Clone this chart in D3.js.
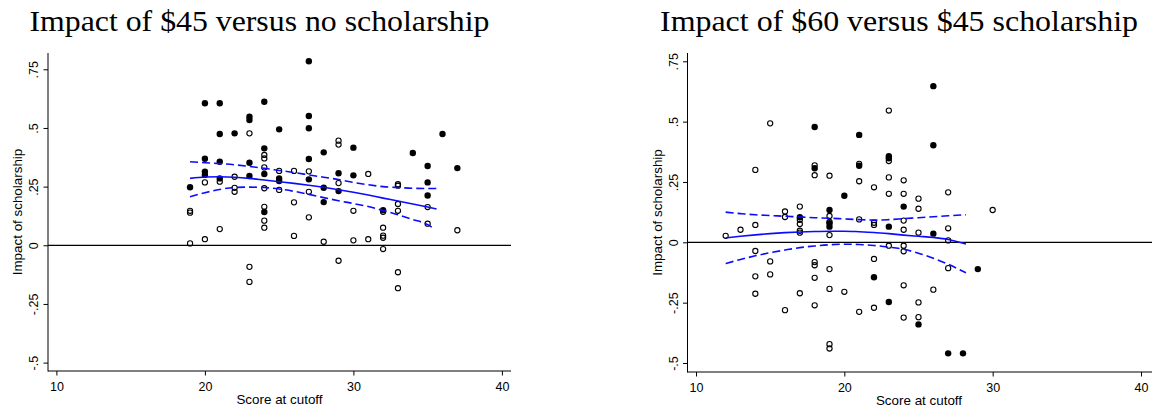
<!DOCTYPE html>
<html>
<head>
<meta charset="utf-8">
<script src="https://cdn.jsdelivr.net/npm/d3@7"></script>
<style>
  html, body { margin: 0; padding: 0; background: #fff; overflow: hidden; }
  svg { display: block; }
</style>
</head>
<body>
<svg id="chart" width="1152" height="411"></svg>
<script>
// ---------------- DATA ----------------
const titles = ["Impact of $45 versus no scholarship", "Impact of $60 versus $45 scholarship"];
const xTitle = "Score at cutoff";
const yTitle = "Impact of scholarship";
const xTicks = [10, 20, 30, 40];
const yTicks = [-0.5, -0.25, 0, 0.25, 0.5, 0.75];
const yTickLabels = ["-.5", "-.25", "0", ".25", ".5", ".75"];

// Left panel: $45 vs none
const leftFilled = [
  [19,.247],[20,.605],[20,.369],[20,.314],[20,.300],[21,.605],[21,.474],[21,.356],[21,.285],
  [22,.477],[23,.548],[23,.534],[23,.352],[23,.295],[24,.612],[24,.413],[24,.304],[24,.142],
  [25,.494],[25,.285],[25,.274],[27,.784],[27,.551],[27,.499],[27,.368],[27,.281],[28,.396],
  [28,.245],[28,.184],[29,.307],[29,.231],[30,.416],[30,.298],[32,.150],[34,.393],[35,.338],
  [35,.268],[35,.212],[36,.474],[37,.329]
];
const leftHollow = [
  [19,.147],[19,.139],[19,.008],[20,.268],[20,.026],[21,.271],[21,.069],[22,.292],[22,.245],
  [22,.228],[23,.477],[23,-.092],[23,-.156],[24,.385],[24,.370],[24,.332],[24,.243],[24,.164],
  [24,.105],[24,.075],[25,.317],[25,.236],[26,.317],[26,.183],[26,.040],[27,.315],[27,.228],
  [27,.119],[28,.015],[29,.446],[29,.429],[29,.265],[29,-.066],[30,.147],[30,.021],[31,.304],
  [31,.026],[32,.143],[32,.075],[32,.041],[32,.032],[32,-.016],[33,.260],[33,.254],[33,.176],
  [33,.147],[33,-.115],[33,-.183],[35,.163],[35,.092],[37,.064]
];
const leftFitX   = [19, 20, 21, 22, 23, 24, 25, 26, 27, 28, 29, 30, 31, 32, 33, 34, 35, 35.6];
const leftFit    = [.285,.291,.292,.290,.285,.278,.271,.264,.256,.247,.237,.226,.214,.201,.189,.176,.163,.155];
const leftUpper  = [.356,.352,.348,.343,.336,.328,.319,.310,.300,.290,.280,.268,.258,.250,.246,.243,.242,.242];
const leftLowerX = [19, 20, 21, 22, 23, 24, 25, 26, 27, 28, 29, 30, 31, 32, 33, 34, 35, 35.4];
const leftLower  = [.207,.224,.238,.246,.248,.246,.240,.230,.217,.203,.190,.178,.165,.148,.130,.110,.088,.072];

// Right panel: $60 vs $45
const rightFilled = [
  [17,.104],[18,.478],[18,.307],[19,.134],[19,.079],[19,.065],[20,.193],[21,.445],[21,.317],
  [22,-.145],[23,.357],[23,.348],[23,.065],[23,-.247],[24,.148],[25,-.340],[26,.647],[26,.402],
  [26,.036],[27,-.460],[28,-.460],[29,-.111]
];
const rightHollow = [
  [12,.027],[13,.052],[14,.300],[14,.072],[14,-.036],[14,-.141],[14,-.213],[15,.493],[15,-.079],
  [15,-.133],[16,.128],[16,.105],[16,-.281],[17,.148],[17,.093],[17,.076],[17,.048],[17,.040],
  [17,-.211],[18,.319],[18,.278],[18,-.082],[18,-.095],[18,-.147],[18,-.261],[19,.276],[19,.109],
  [19,.085],[19,.030],[19,-.111],[19,-.193],[19,-.422],[19,-.440],[20,-.205],[21,.325],[21,.253],
  [21,.095],[21,-.288],[22,.228],[22,.081],[22,.072],[22,-.069],[22,-.271],[23,.546],[23,.337],
  [23,.269],[23,.201],[23,-.014],[24,.257],[24,.201],[24,.090],[24,.052],[24,-.014],[24,-.037],
  [24,-.178],[24,-.312],[25,.181],[25,.139],[25,.040],[25,-.249],[25,-.310],[26,-.196],[27,.207],
  [27,.058],[27,.008],[27,-.107],[30,.134]
];
const rightFitX  = [12, 13, 14, 15, 16, 17, 18, 19, 20, 21, 22, 23, 24, 25, 26, 27, 28.2];
const rightFit   = [.018,.025,.031,.036,.040,.043,.045,.046,.046,.044,.041,.036,.030,.025,.020,.012,-.007];
const rightUpper = [.125,.119,.114,.111,.108,.105,.102,.100,.097,.094,.092,.094,.098,.102,.106,.110,.114];
const rightLower = [-.088,-.071,-.056,-.043,-.032,-.022,-.015,-.010,-.008,-.009,-.013,-.020,-.029,-.045,-.066,-.091,-.126];

// ---------------- LAYOUT ----------------
const panels = [
  { title: titles[0], titleX: 29.5, titleW: 460,
    xr: [56.4, 501.9], yr: [362.6, 69.3], axX: 48, axY: 371, top: 53, right: 511,
    zeroEnd: 511, tickOff: -10.5, yTitleX: 22, xLabY: 391, xTitleY: 404.3, xTitleC: 279.5,
    filled: leftFilled, hollow: leftHollow,
    fit: { x: leftFitX, y: leftFit }, upper: { x: leftFitX, y: leftUpper }, lower: { x: leftLowerX, y: leftLower } },
  { title: titles[1], titleX: 660, titleW: 478,
    xr: [696, 1141], yr: [363.0, 61.3], axX: 687.5, axY: 372, top: 53, right: 1152,
    zeroEnd: 1152, tickOff: -9.5, yTitleX: 662, xLabY: 392, xTitleY: 405.3, xTitleC: 919,
    filled: rightFilled, hollow: rightHollow,
    fit: { x: rightFitX, y: rightFit }, upper: { x: rightFitX, y: rightUpper }, lower: { x: rightFitX, y: rightLower } }
];

const svg = d3.select("#chart");
const SANS = '"Liberation Sans", Arial, sans-serif';
const SERIF = '"Liberation Serif", "Times New Roman", serif';
const blue = "#0b0bff";

panels.forEach(p => {
  const x = d3.scaleLinear().domain([10, 40]).range(p.xr);
  const y = d3.scaleLinear().domain([-0.5, 0.75]).range(p.yr);
  const g = svg.append("g");

  // Title
  g.append("text")
    .style("font-family", SERIF).style("font-size", "29.5px")
    .attr("x", p.titleX).attr("y", 30.5)
    .attr("textLength", p.titleW).attr("lengthAdjust", "spacingAndGlyphs")
    .attr("fill", "#000")
    .text(p.title);

  // Zero reference line
  g.append("line")
    .attr("x1", p.axX).attr("x2", p.zeroEnd)
    .attr("y1", y(0)).attr("y2", y(0))
    .attr("stroke", "#000").attr("stroke-width", 1.3);

  // Axes
  const yAxis = d3.axisLeft(y).tickValues(yTicks)
    .tickFormat((d, i) => yTickLabels[i]).tickSize(4.5).tickPadding(0);
  const ya = g.append("g").attr("transform", `translate(${p.axX},0)`).call(yAxis);
  ya.select(".domain").remove();
  ya.selectAll(".tick line").attr("stroke", "#000").attr("stroke-width", 1);
  ya.selectAll(".tick text")
    .style("font-family", SANS).style("font-size", "12.5px")
    .attr("x", 0).attr("y", p.tickOff).attr("dy", null)
    .attr("transform", "rotate(-90)")
    .attr("text-anchor", "middle")
    .attr("fill", "#000");

  const xAxis = d3.axisBottom(x).tickValues(xTicks).tickSize(4.5).tickPadding(0);
  const xa = g.append("g").attr("transform", `translate(0,${p.axY})`).call(xAxis);
  xa.select(".domain").remove();
  xa.selectAll(".tick line").attr("stroke", "#000").attr("stroke-width", 1);
  xa.selectAll(".tick text")
    .style("font-family", SANS).style("font-size", "12.5px")
    .attr("y", p.xLabY - p.axY).attr("dy", null)
    .attr("fill", "#000");

  // Axis lines
  g.append("line").attr("x1", p.axX).attr("x2", p.axX).attr("y1", p.top).attr("y2", p.axY + 0.5)
    .attr("stroke", "#000").attr("stroke-width", 1);
  g.append("line").attr("x1", p.axX).attr("x2", p.right).attr("y1", p.axY).attr("y2", p.axY)
    .attr("stroke", "#000").attr("stroke-width", 1);

  // Axis titles
  g.append("text")
    .style("font-family", SANS).style("font-size", "13.4px")
    .attr("transform", `translate(${p.yTitleX},${(p.top + p.axY) / 2}) rotate(-90)`)
    .attr("text-anchor", "middle")
    .attr("fill", "#000")
    .text(yTitle);
  g.append("text")
    .style("font-family", SANS).style("font-size", "13.4px")
    .attr("x", p.xTitleC).attr("y", p.xTitleY)
    .attr("text-anchor", "middle")
    .attr("fill", "#000")
    .text(xTitle);

  // Points
  g.append("g").selectAll("circle").data(p.hollow).join("circle")
    .attr("cx", d => x(d[0])).attr("cy", d => y(d[1])).attr("r", 2.6)
    .attr("fill", "none").attr("stroke", "#000").attr("stroke-width", 1.1);
  g.append("g").selectAll("circle").data(p.filled).join("circle")
    .attr("cx", d => x(d[0])).attr("cy", d => y(d[1])).attr("r", 3.2)
    .attr("fill", "#000");

  // Fitted curves
  const line = d3.line().x(d => x(d[0])).y(d => y(d[1])).curve(d3.curveMonotoneX);
  const toPts = s => s.x.map((v, i) => [v, s.y[i]]);
  g.append("path").attr("d", line(toPts(p.upper)))
    .attr("fill", "none").attr("stroke", blue).attr("stroke-width", 1.6).attr("stroke-dasharray", "8,4");
  g.append("path").attr("d", line(toPts(p.lower)))
    .attr("fill", "none").attr("stroke", blue).attr("stroke-width", 1.6).attr("stroke-dasharray", "8,4");
  g.append("path").attr("d", line(toPts(p.fit)))
    .attr("fill", "none").attr("stroke", blue).attr("stroke-width", 1.6);
});
</script>
</body>
</html>
